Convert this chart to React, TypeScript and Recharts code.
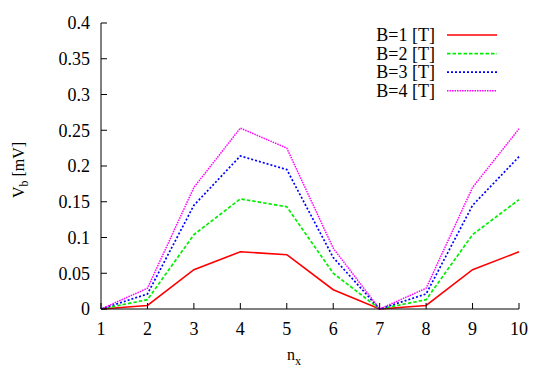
import React from 'react';
import { LineChart, Line, XAxis, YAxis, Legend, Label } from 'recharts';

// n_x positions and the four field strengths
const nx = [1, 2, 3, 4, 5, 6, 7, 8, 9, 10];
const b1 = [0, 0.005, 0.055, 0.08, 0.076, 0.027, 0, 0.005, 0.055, 0.08];
const b2 = [0, 0.013, 0.104, 0.154, 0.143, 0.05, 0, 0.013, 0.104, 0.153];
const b3 = [0, 0.021, 0.145, 0.214, 0.195, 0.072, 0, 0.021, 0.145, 0.213];
const b4 = [0, 0.029, 0.17, 0.253, 0.225, 0.085, 0, 0.029, 0.17, 0.252];

const xTicks = [1, 2, 3, 4, 5, 6, 7, 8, 9, 10];
const yTicks = [0, 0.05, 0.1, 0.15, 0.2, 0.25, 0.3, 0.35, 0.4];
const yTickLabels = ['0', '0.05', '0.1', '0.15', '0.2', '0.25', '0.3', '0.35', '0.4'];

const data = nx.map((n, i) => ({ n, b1: b1[i], b2: b2[i], b3: b3[i], b4: b4[i] }));

const FONT = '"Liberation Serif", "DejaVu Serif", serif';
const FS = 18;
const LFS = 16;
const SUB = 12;
const TICK = 6;
const XMARGIN = 13;

const BottomTick = (props: any) => {
    const { x, y, payload } = props;
    return (
        <g>
            <line x1={x} x2={x} y1={y - XMARGIN} y2={y - XMARGIN - TICK} stroke="#000" />
            <text x={x} y={y} dy="0.71em" textAnchor="middle" fill="#000" fontSize={FS} fontFamily={FONT}>
                {payload.value}
            </text>
        </g>
    );
};

const TopTick = (props: any) => {
    const { x, y } = props;
    return <line x1={x} x2={x} y1={y} y2={y + TICK} stroke="#000" />;
};

const LeftTick = (props: any) => {
    const { x, y, payload } = props;
    const idx = yTicks.indexOf(payload.value);
    return (
        <g>
            <line x1={x + 11} x2={x + 11 + TICK} y1={y} y2={y} stroke="#000" />
            <text x={x} y={y} dy="0.35em" textAnchor="end" fill="#000" fontSize={FS} fontFamily={FONT}>
                {idx >= 0 ? yTickLabels[idx] : payload.value}
            </text>
        </g>
    );
};

const RightTick = (props: any) => {
    const { x, y } = props;
    return <line x1={x} x2={x - TICK} y1={y} y2={y} stroke="#000" />;
};

const LegendBox = (props: any) => {
    const items = props.payload || [];
    return (
        <svg width={552} height={110} style={{ display: 'block' }}>
            {items.map((it: any, i: number) => {
                const cy = 35 + i * 18.6;
                return (
                    <g key={i}>
                        <text x={435} y={cy} dy="0.33em" textAnchor="end" fill="#000" fontSize={FS} fontFamily={FONT}>
                            {it.value}
                        </text>
                        <line
                            x1={447}
                            x2={497}
                            y1={cy}
                            y2={cy}
                            stroke={it.color}
                            strokeWidth={it.payload?.strokeWidth ?? 1.6}
                            strokeDasharray={it.payload?.strokeDasharray}
                        />
                    </g>
                );
            })}
        </svg>
    );
};

const YLabel = (props: any) => {
    const vb = props.viewBox || { x: 0, y: 0, width: 0, height: 0 };
    const cx = vb.x + 24;
    const cy = vb.y + vb.height / 2 + 4;
    return (
        <text x={cx} y={cy} transform={`rotate(-90 ${cx} ${cy})`} textAnchor="middle" fill="#000" fontSize={LFS} fontFamily={FONT}>
            V<tspan fontSize={SUB} dy={4}>b</tspan>
            <tspan dy={-4}> [mV]</tspan>
        </text>
    );
};

const XLabel = (props: any) => {
    const vb = props.viewBox || { x: 0, y: 0, width: 0, height: 0 };
    const cx = vb.x + vb.width / 2 - 16;
    return (
        <text x={cx} y={360} textAnchor="middle" fill="#000" fontSize={LFS} fontFamily={FONT}>
            n<tspan fontSize={SUB} dy={5}>x</tspan>
        </text>
    );
};

export default function App() {
    return (
        <div style={{ position: 'absolute', left: 0, top: 0, width: 552, height: 386, background: '#fff', fontFamily: FONT }}>
            <LineChart width={552} height={386} data={data} margin={{ top: 23, right: 33, bottom: 17, left: 0 }}>
                <XAxis
                    dataKey="n"
                    type="number"
                    domain={[1, 10]}
                    ticks={xTicks}
                    height={60}
                    tickSize={0}
                    tickMargin={XMARGIN}
                    tickLine={false}
                    tick={BottomTick}
                    axisLine={{ stroke: '#000' }}
                    interval={0}
                >
                    <Label content={XLabel} />
                </XAxis>
                <XAxis
                    xAxisId="top"
                    orientation="top"
                    dataKey="n"
                    type="number"
                    domain={[1, 10]}
                    ticks={xTicks}
                    height={0}
                    tickSize={0}
                    tickMargin={0}
                    tickLine={false}
                    tick={TopTick}
                    axisLine={{ stroke: '#000' }}
                    interval={0}
                />
                <YAxis
                    type="number"
                    domain={[0, 0.4]}
                    ticks={yTicks}
                    width={101}
                    tickSize={0}
                    tickMargin={11}
                    tickLine={false}
                    tick={LeftTick}
                    axisLine={{ stroke: '#000' }}
                    interval={0}
                >
                    <Label content={YLabel} />
                </YAxis>
                <YAxis
                    yAxisId="right"
                    orientation="right"
                    type="number"
                    domain={[0, 0.4]}
                    ticks={yTicks}
                    width={0}
                    tickSize={0}
                    tickMargin={0}
                    tickLine={false}
                    tick={RightTick}
                    axisLine={{ stroke: '#000' }}
                    interval={0}
                />
                <Legend
                    layout="horizontal"
                    verticalAlign="middle"
                    align="center"
                    content={LegendBox}
                    wrapperStyle={{ left: 0, top: 0, width: 552, height: 110 }}
                />
                <Line dataKey="b1" name="B=1 [T]" stroke="#ff0000" strokeWidth={1.6} dot={false} isAnimationActive={false} />
                <Line dataKey="b2" name="B=2 [T]" stroke="#00ee00" strokeWidth={1.7} strokeDasharray="3.5 2" dot={false} isAnimationActive={false} />
                <Line dataKey="b3" name="B=3 [T]" stroke="#0000ff" strokeWidth={1.7} strokeDasharray="2 2" dot={false} isAnimationActive={false} />
                <Line dataKey="b4" name="B=4 [T]" stroke="#ff00ff" strokeWidth={1.5} strokeDasharray="1.5 1" dot={false} isAnimationActive={false} />
            </LineChart>
        </div>
    );
}
